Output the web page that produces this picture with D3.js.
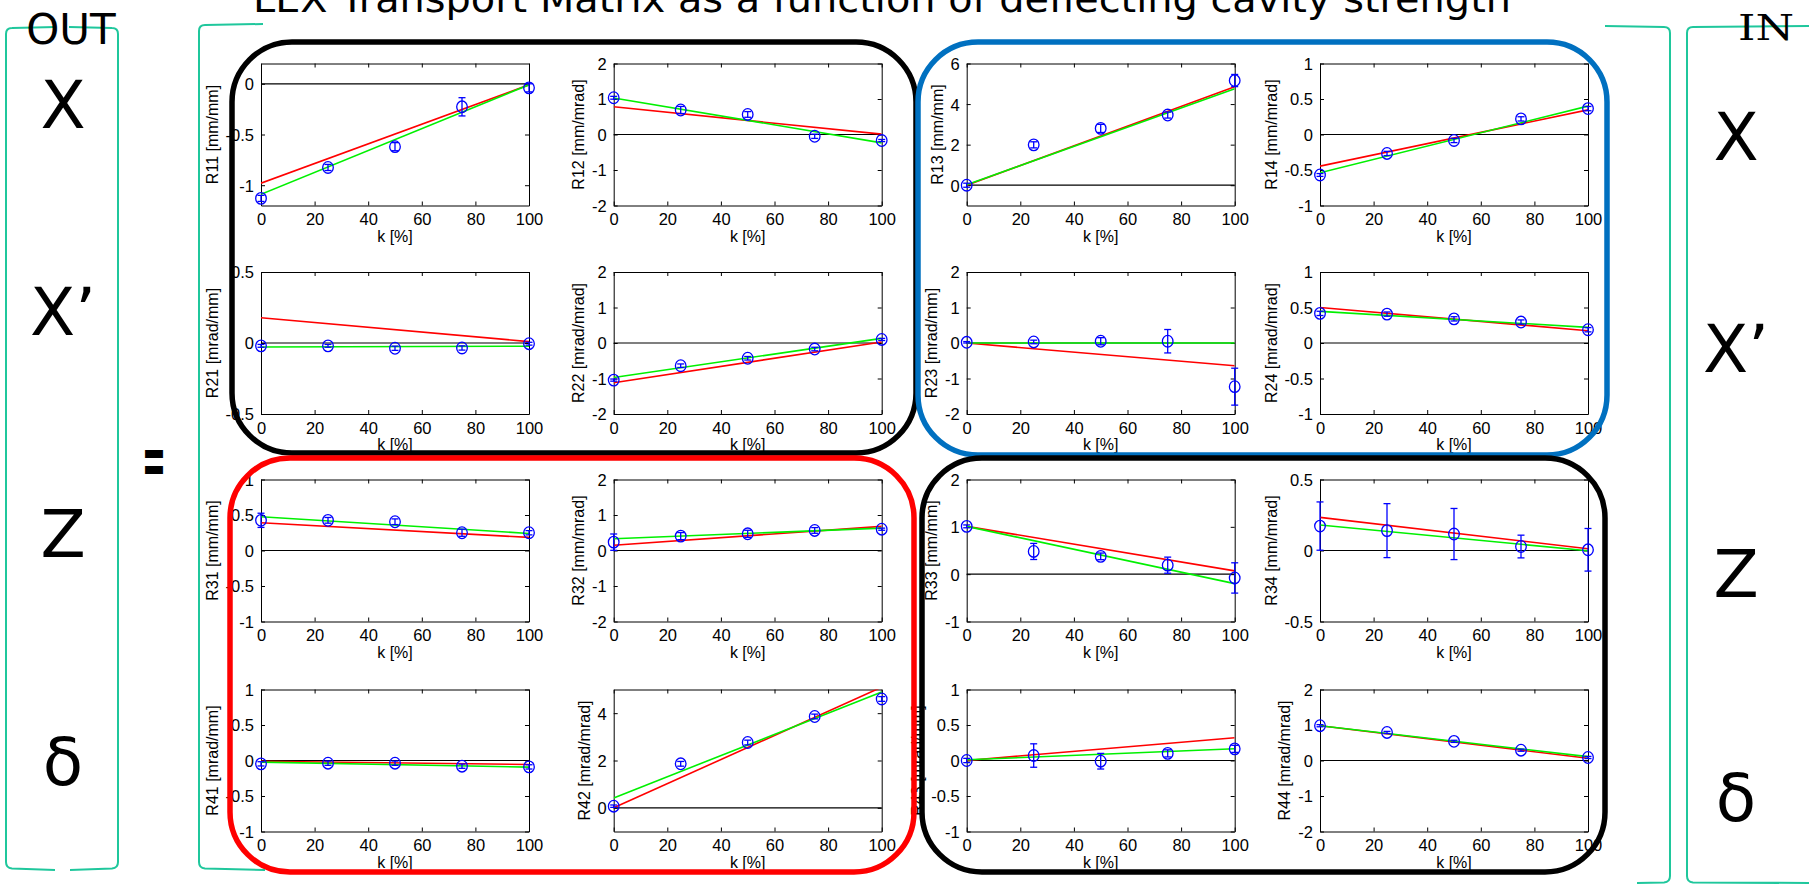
<!DOCTYPE html>
<html><head><meta charset="utf-8">
<script src="https://cdn.jsdelivr.net/npm/d3@7"></script>
<style>body{margin:0;background:#fff;} svg{display:block;}</style>
</head><body><svg id="c" width="1809" height="887"></svg>
<script>
// ---------------- data ----------------
const titleText = "LEX Transport Matrix as a function of deflecting cavity strength";
const outVars = ["X", "X\u2019", "Z", "\u03B4"];
const inVars = ["X", "X\u2019", "Z", "\u03B4"];
const kValues = [0, 25, 50, 75, 100];
const fitK = [0, 100];
const xTicks = [0, 20, 40, 60, 80, 100];
const xLabel = "k [%]";
const panelNames = ["R11","R12","R13","R14","R21","R22","R23","R24","R31","R32","R33","R34","R41","R42","R43","R44"];
const yUnits = ["[mm/mm]","[mm/mrad]","[mm/mm]","[mm/mrad]",
                "[mrad/mm]","[mrad/mrad]","[mrad/mm]","[mrad/mrad]",
                "[mm/mm]","[mm/mrad]","[mm/mm]","[mm/mrad]",
                "[mrad/mm]","[mrad/mrad]","[mrad/mm]","[mrad/mrad]"];
const yDomains = [[-1.2,0.2],[-2,2],[-1,6],[-1,1],
                  [-0.5,0.5],[-2,2],[-2,2],[-1,1],
                  [-1,1],[-2,2],[-1,2],[-0.5,0.5],
                  [-1,1],[-1,5],[-1,1],[-2,2]];
const yTicks = [[-1,-0.5,0],[-2,-1,0,1,2],[0,2,4,6],[-1,-0.5,0,0.5,1],
                [-0.5,0,0.5],[-2,-1,0,1,2],[-2,-1,0,1,2],[-1,-0.5,0,0.5,1],
                [-1,-0.5,0,0.5,1],[-2,-1,0,1,2],[-1,0,1,2],[-0.5,0,0.5],
                [-1,-0.5,0,0.5,1],[0,2,4],[-1,-0.5,0,0.5,1],[-2,-1,0,1,2]];
const measured = [
  [-1.13,-0.825,-0.62,-0.227,-0.04],
  [1.035,0.69,0.565,-0.05,-0.17],
  [0.0,1.99,2.80,3.46,5.16],
  [-0.57,-0.267,-0.084,0.22,0.365],
  [-0.02,-0.02,-0.037,-0.035,-0.005],
  [-1.045,-0.64,-0.43,-0.17,0.10],
  [0.02,0.03,0.05,0.05,-1.23],
  [0.417,0.407,0.34,0.295,0.187],
  [0.425,0.425,0.405,0.25,0.25],
  [0.235,0.405,0.47,0.565,0.60],
  [1.01,0.48,0.376,0.19,-0.08],
  [0.172,0.14,0.116,0.028,0.005],
  [-0.047,-0.038,-0.038,-0.08,-0.09],
  [0.07,1.86,2.76,3.86,4.6],
  [0.0,0.07,-0.01,0.1,0.164],
  [0.98,0.79,0.54,0.29,0.085]];
const errors = [
  [0.03,0.03,0.04,0.09,0.04],
  [0.04,0.1,0.08,0.06,0.03],
  [0.1,0.15,0.2,0.15,0.3],
  [0.02,0.03,0.03,0.03,0.03],
  [0.01,0.01,0.015,0.015,0.01],
  [0.03,0.05,0.05,0.05,0.03],
  [0.02,0.05,0.1,0.33,0.52],
  [0.03,0.03,0.03,0.03,0.03],
  [0.1,0.04,0.04,0.05,0.03],
  [0.23,0.1,0.1,0.08,0.03],
  [0.03,0.17,0.07,0.17,0.32],
  [0.17,0.19,0.18,0.08,0.15],
  [0.03,0.03,0.03,0.03,0.03],
  [0.05,0.1,0.1,0.1,0.1],
  [0.03,0.165,0.11,0.05,0.05],
  [0.03,0.03,0.03,0.03,0.03]];
const fitRed = [
  [-0.98,-0.01],[0.78,0.01],[0.0,4.85],[-0.445,0.347],
  [0.178,0.01],[-1.12,0.03],[0.0,-0.64],[0.50,0.173],
  [0.39,0.185],[0.15,0.68],[1.01,0.07],[0.233,0.012],
  [-0.01,-0.056],[0.0,5.1],[0.0,0.32],[0.98,0.065]];
const fitGreen = [
  [-1.09,-0.01],[1.03,-0.235],[0.02,4.76],[-0.54,0.40],
  [-0.028,-0.023],[-0.97,0.13],[0.0,0.0],[0.445,0.22],
  [0.476,0.24],[0.33,0.63],[1.01,-0.2],[0.18,-0.002],
  [-0.023,-0.094],[0.42,4.89],[0.01,0.165],[0.98,0.11]];

// ---------------- layout ----------------
const W = 1809, H = 887;
const colLeft = [261, 613.7, 966.7, 1320];
const rowTop = [63.5, 272, 479.5, 689.5];
const PW = 268, PH = 142;
const tickFont = "'Liberation Sans', Arial, Helvetica, sans-serif";
const handFont = "'DejaVu Sans', 'Noto Sans', sans-serif";
const TFS = 16.5;

const svg = d3.select("#c");
svg.append("rect").attr("width", W).attr("height", H).attr("fill", "#fff");

const fmt = d => String(d);

panelNames.forEach((name, i) => {
  const r = Math.floor(i / 4), c = i % 4;
  const x0 = colLeft[c], y0 = rowTop[r];
  const x = d3.scaleLinear().domain([0, 100]).range([x0, x0 + PW]);
  const y = d3.scaleLinear().domain(yDomains[i]).range([y0 + PH, y0]);
  const g = svg.append("g");
  const cid = "clip" + i;
  g.append("clipPath").attr("id", cid).append("rect")
    .attr("x", x0).attr("y", y0).attr("width", PW).attr("height", PH);

  // axes
  const styleAxis = sel => {
    sel.attr("font-size", TFS).attr("font-family", tickFont);
    sel.selectAll("path.domain").attr("stroke", "#000").attr("stroke-width", 1);
    sel.selectAll(".tick line").attr("stroke", "#000").attr("stroke-width", 1);
    sel.selectAll(".tick text").attr("fill", "#000");
  };
  const gb = g.append("g").attr("transform", `translate(0,${y0 + PH})`)
    .call(d3.axisBottom(x).tickValues(xTicks).tickFormat(fmt).tickSizeInner(-4).tickSizeOuter(0).tickPadding(8));
  styleAxis(gb);
  const gt = g.append("g").attr("transform", `translate(0,${y0})`)
    .call(d3.axisTop(x).tickValues(xTicks).tickFormat("").tickSizeInner(-4).tickSizeOuter(0));
  styleAxis(gt);
  const gl = g.append("g").attr("transform", `translate(${x0},0)`)
    .call(d3.axisLeft(y).tickValues(yTicks[i]).tickFormat(fmt).tickSizeInner(-4).tickSizeOuter(0).tickPadding(7));
  styleAxis(gl);
  gl.selectAll(".tick text").attr("dy", "0.36em");
  const gr = g.append("g").attr("transform", `translate(${x0 + PW},0)`)
    .call(d3.axisRight(y).tickValues(yTicks[i]).tickFormat("").tickSizeInner(-4).tickSizeOuter(0));
  styleAxis(gr);

  // labels
  let maxW = 0;
  gl.selectAll(".tick text").each(function () { maxW = Math.max(maxW, this.getComputedTextLength()); });
  const lx = x0 - 7 - maxW - 8, ly = y0 + PH / 2;
  g.append("text").attr("transform", `translate(${lx},${ly}) rotate(-90)`)
    .attr("text-anchor", "middle").attr("font-family", tickFont).attr("font-size", 16)
    .attr("fill", "#000").text(name + " " + yUnits[i]);
  g.append("text").attr("x", x0 + PW / 2).attr("y", y0 + PH + 36)
    .attr("text-anchor", "middle").attr("font-family", tickFont).attr("font-size", 16)
    .attr("fill", "#000").text(xLabel);

  // zero line
  g.append("line").attr("x1", x(0)).attr("x2", x(100)).attr("y1", y(0)).attr("y2", y(0))
    .attr("stroke", "#000").attr("stroke-width", 1.2);

  // fits
  const line = d3.line().x(d => x(d[0])).y(d => y(d[1]));
  g.append("path").datum(fitK.map((k, j) => [k, fitRed[i][j]]))
    .attr("d", line).attr("fill", "none").attr("stroke", "#ff0000").attr("stroke-width", 1.6)
    .attr("clip-path", `url(#${cid})`);
  g.append("path").datum(fitK.map((k, j) => [k, fitGreen[i][j]]))
    .attr("d", line).attr("fill", "none").attr("stroke", "#00f000").attr("stroke-width", 1.6)
    .attr("clip-path", `url(#${cid})`);

  // error bars + markers
  const pts = kValues.map((k, j) => ({ k, v: measured[i][j], e: errors[i][j] }));
  const eb = g.append("g").attr("stroke", "#0000ff").attr("stroke-width", 1.3).attr("fill", "none");
  pts.forEach(p => {
    const px = x(p.k), yt = y(p.v + p.e), yb = y(p.v - p.e);
    eb.append("line").attr("x1", px).attr("x2", px).attr("y1", yt).attr("y2", yb);
    eb.append("line").attr("x1", px - 3.5).attr("x2", px + 3.5).attr("y1", yt).attr("y2", yt);
    eb.append("line").attr("x1", px - 3.5).attr("x2", px + 3.5).attr("y1", yb).attr("y2", yb);
    eb.append("ellipse").attr("cx", px).attr("cy", y(p.v)).attr("rx", 5.3).attr("ry", 5.8);
  });
});

// ---------------- decorations ----------------
const boxes = [
  { x1: 232, y1: 42, x2: 916, y2: 453, c: "#000000" },
  { x1: 918, y1: 42, x2: 1607, y2: 455, c: "#0070c0" },
  { x1: 230, y1: 458, x2: 914, y2: 872, c: "#ff0000" },
  { x1: 922, y1: 458, x2: 1605, y2: 872, c: "#000000" }];
boxes.forEach(b => {
  svg.append("rect").attr("x", b.x1).attr("y", b.y1).attr("width", b.x2 - b.x1).attr("height", b.y2 - b.y1)
    .attr("rx", 60).attr("ry", 60).attr("fill", "none").attr("stroke", b.c).attr("stroke-width", 5.5);
});

const bracketColor = "#1fc79c";
const brackets = [
  "M56,27 L12,28 Q6,28 6,34 L6,862 Q6,868 12,868.5 L55,870",
  "M69,27 L112,28 Q118,28 118,34 L118,862 Q118,868 112,868.5 L70,870",
  "M263,24 L205,25 Q199,25 199,31 L199,862 Q199,868 205,868.5 L265,870",
  "M1605,26 L1664,27 Q1670,27 1670,33 L1670,876 Q1670,882 1664,882.5 L1637,883",
  "M1809,26 L1693,27 Q1687,27 1687,33 L1687,876 Q1687,882 1693,882.5 L1809,883"];
brackets.forEach(d => svg.append("path").attr("d", d).attr("fill", "none")
  .attr("stroke", bracketColor).attr("stroke-width", 2));

// title
svg.append("text").attr("x", 253).attr("y", 12).attr("font-family", handFont).attr("font-size", 38)
  .attr("textLength", 1258).attr("lengthAdjust", "spacingAndGlyphs").attr("fill", "#000").text(titleText);
svg.append("text").attr("x", 71).attr("y", 44).attr("text-anchor", "middle").attr("font-family", handFont)
  .attr("font-size", 42).attr("fill", "#000").text("OUT");
svg.append("text").attr("x", 1766).attr("y", 40).attr("text-anchor", "middle").attr("font-family", "'DejaVu Serif', serif")
  .attr("font-size", 36).attr("textLength", 56).attr("lengthAdjust", "spacingAndGlyphs").attr("fill", "#000").text("IN");
svg.append("text").attr("x", 142).attr("y", 484).attr("font-family", handFont).attr("font-weight", "bold")
  .attr("font-size", 70).attr("textLength", 24).attr("lengthAdjust", "spacingAndGlyphs").attr("fill", "#000").text("=");

const leftY = [128, 335, 557, 785];
const rightY = [160, 372, 597, 821];
outVars.forEach((v, j) => svg.append("text").attr("x", 63).attr("y", leftY[j]).attr("text-anchor", "middle")
  .attr("font-family", handFont).attr("font-size", 66).attr("fill", "#000").text(v));
inVars.forEach((v, j) => svg.append("text").attr("x", 1736).attr("y", rightY[j]).attr("text-anchor", "middle")
  .attr("font-family", handFont).attr("font-size", 66).attr("fill", "#000").text(v));
</script></body></html>
